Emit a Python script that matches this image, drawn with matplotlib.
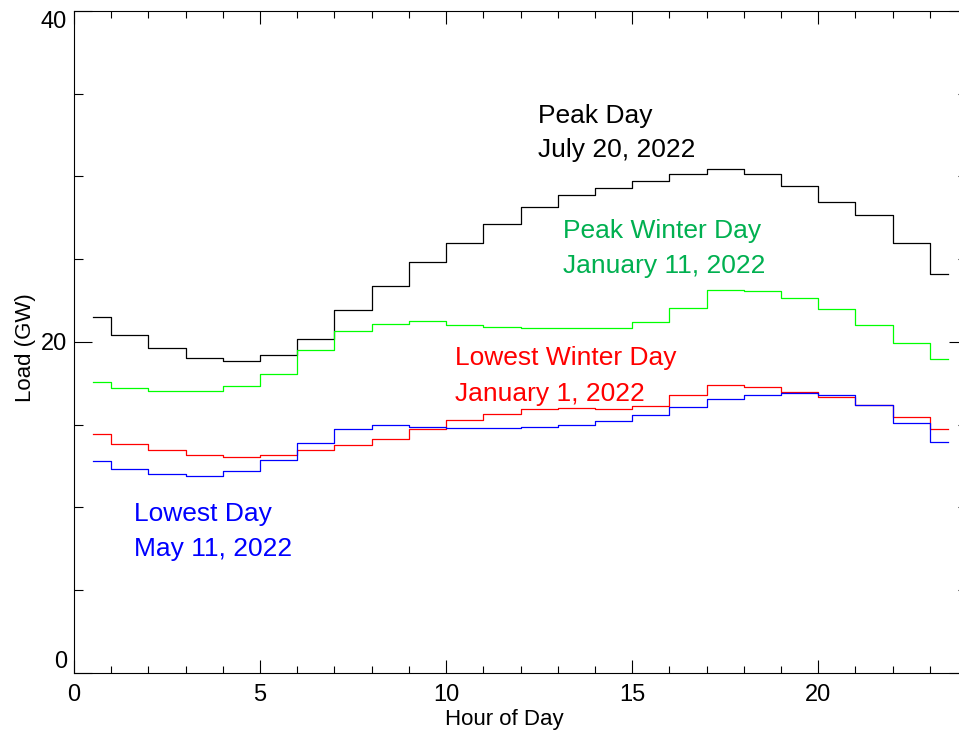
import numpy as np
import matplotlib
matplotlib.use("Agg")
from matplotlib import pyplot as plt
from matplotlib.ticker import MultipleLocator, FixedLocator

plt.rcParams['font.family'] = ['Liberation Sans', 'DejaVu Sans']

# hourly load (GW), one value per hour, plotted at the middle of the hour
hours = np.arange(24) + 0.5
peak_day = [21.5, 20.4, 19.6, 19.0, 18.85, 19.2, 20.15, 21.9, 23.35, 24.8, 25.95, 27.1,
            28.15, 28.9, 29.3, 29.7, 30.15, 30.45, 30.15, 29.4, 28.45, 27.65, 25.95, 24.1]
peak_winter = [17.55, 17.2, 17.0, 17.0, 17.3, 18.05, 19.5, 20.65, 21.1, 21.25, 21.0, 20.9,
               20.85, 20.85, 20.85, 21.2, 22.05, 23.15, 23.1, 22.65, 22.0, 21.0, 19.95, 18.95]
lowest_winter = [14.45, 13.85, 13.45, 13.15, 13.05, 13.15, 13.45, 13.75, 14.1, 14.7, 15.3, 15.65,
                 15.95, 16.0, 15.95, 16.1, 16.8, 17.4, 17.25, 16.95, 16.65, 16.15, 15.45, 14.7]
lowest_day = [12.8, 12.3, 12.0, 11.9, 12.2, 12.85, 13.9, 14.75, 14.95, 14.85, 14.8, 14.8,
              14.85, 14.95, 15.2, 15.55, 16.05, 16.55, 16.8, 16.9, 16.8, 16.2, 15.1, 13.95]

series = [
    (peak_day, 'black', 'black', ['Peak Day', 'July 20, 2022'], (12.48, 33.25, 31.2)),
    (peak_winter, '#00ff00', '#00b050', ['Peak Winter Day', 'January 11, 2022'], (13.13, 26.26, 24.15)),
    (lowest_winter, '#ff0000', '#ff0000', ['Lowest Winter Day', 'January 1, 2022'], (10.24, 18.6, 16.43)),
    (lowest_day, '#0000ff', '#0000ff', ['Lowest Day', 'May 11, 2022'], (1.61, 9.19, 7.06)),
]

fig = plt.figure(figsize=(9.59, 7.45), dpi=100)
ax = fig.add_axes([0.0772, 0.0971, 0.9312, 0.8882])

for vals, lc, tc, lines, (tx, ty1, ty2) in series:
    ax.step(hours, vals, where='mid', color=lc, lw=0.9)
    ax.text(tx, ty1, lines[0], color=tc, fontsize=19, va='baseline')
    ax.text(tx, ty2, lines[1], color=tc, fontsize=19, va='baseline')

ax.set_xlim(0, 24)
ax.set_ylim(0, 40)
ax.xaxis.set_major_locator(FixedLocator([0, 5, 10, 15, 20]))
ax.xaxis.set_minor_locator(MultipleLocator(1))
ax.yaxis.set_major_locator(FixedLocator([0, 20, 40]))
ax.yaxis.set_minor_locator(MultipleLocator(5))

ax.tick_params(which='both', direction='in', top=True, right=True, labelsize=17, width=0.8)
ax.tick_params(axis='x', which='major', length=9.5, pad=8)
ax.tick_params(axis='x', which='minor', length=5)
ax.tick_params(axis='y', which='major', length=13, pad=5)
ax.tick_params(axis='y', which='minor', length=6.5)
for s in ax.spines.values():
    s.set_linewidth(0.8)

fig.canvas.draw()
ylabs = ax.get_yticklabels()
ylabs[0].set_verticalalignment('bottom')
ylabs[2].set_verticalalignment('top')

ax.set_xlabel('Hour of Day', fontsize=16)
ax.set_ylabel('Load (GW)', fontsize=16)
ax.xaxis.set_label_coords(0.482, -0.055)
ax.yaxis.set_label_coords(-0.043, 0.491)

fig.savefig('out.png', dpi=100)
